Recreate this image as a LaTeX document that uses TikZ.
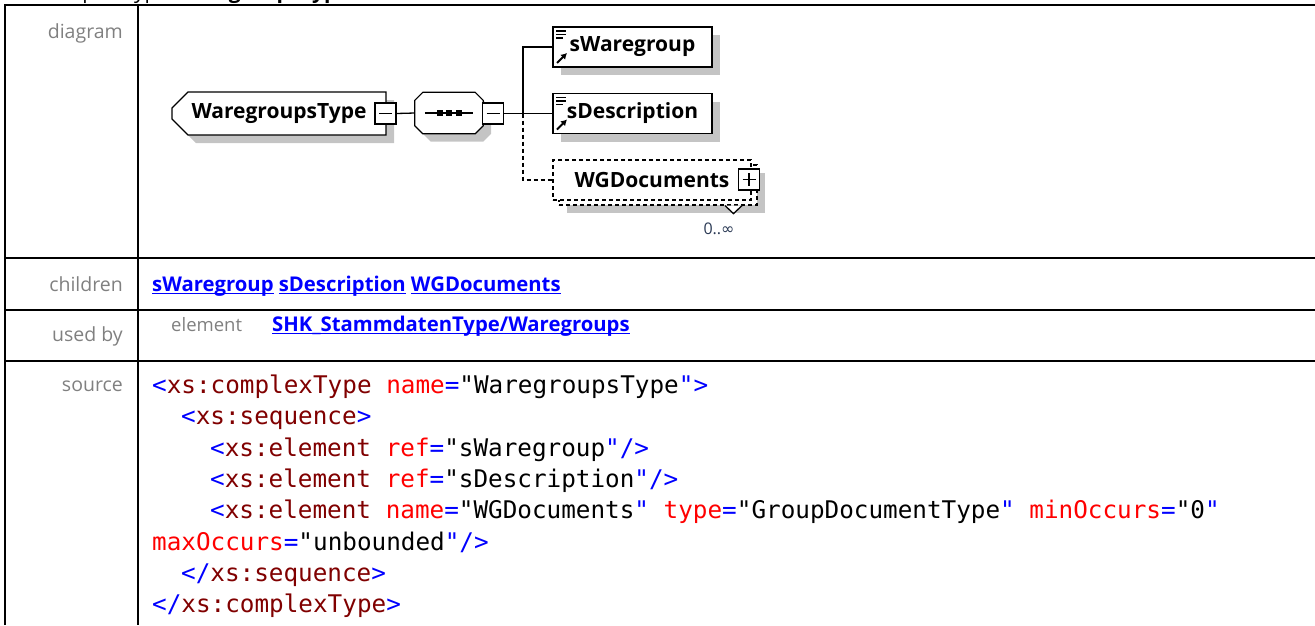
\documentclass[tikz,border=0pt]{standalone}
\usepackage{fontspec}
\setmainfont{Open Sans}
\setmonofont{DejaVu Sans Mono}
\newfontfamily\symfont{DejaVu Sans}
\usetikzlibrary{arrows.meta,shapes.misc,shadows,calc,positioning}
\definecolor{lblGray}{HTML}{808080}
\definecolor{lnkBlue}{HTML}{0000FF}
\definecolor{tagRed}{HTML}{800000}
\definecolor{attRed}{HTML}{FF0000}
\definecolor{shdGray}{HTML}{C4C4C4}
\definecolor{occNavy}{HTML}{2B3A55}
\newcommand\pn[1]{\textcolor{lnkBlue}{#1}}
\newcommand\tn[1]{\textcolor{tagRed}{#1}}
\newcommand\an[1]{\textcolor{attRed}{#1}}
\newcommand\lnk[1]{\setbox0\hbox{#1}\rlap{\rule[-3pt]{\wd0}{1.3pt}}\box0\relax}

\begin{document}
\begin{tikzpicture}[x=1pt, y=-1pt,
  tbl/.style={line width=2pt},
  lbl/.style={anchor=base east, inner sep=0pt, text=lblGray, font=\fontsize{19.5}{22}\selectfont},
  lnkrow/.style={anchor=base west, inner sep=0pt, text=lnkBlue, font=\bfseries\fontsize{20.3}{22}\selectfont},
  code/.style={anchor=base west, inner sep=0pt, font=\ttfamily\fontsize{24.3}{28}\selectfont},
  shd/.style={drop shadow={shadow xshift=8pt, shadow yshift=-8pt, fill=shdGray, opacity=1}},
  ctype/.style={chamfered rectangle, chamfered rectangle corners={north west,south west},
    chamfered rectangle xsep=8pt, chamfered rectangle ysep=8pt, draw, fill=white, line width=1.2pt, shd,
    minimum width=214pt, minimum height=43pt, inner sep=0pt, font=\bfseries\fontsize{21}{24}\selectfont},
  seqbox/.style={rectangle, minimum width=68pt, minimum height=41pt, inner sep=0pt},
  elem/.style={rectangle, draw, fill=white, line width=1.2pt, minimum width=159pt, minimum height=40pt,
    inner sep=0pt, font=\bfseries\fontsize{21}{24}\selectfont},
  refelem/.style={elem, shd, path picture={
    \draw[line width=1.3pt] ($(path picture bounding box.north west)+(3,4)$) -- +(10,0);
    \draw[line width=1.3pt] ($(path picture bounding box.north west)+(3,7.5)$) -- +(10,0);
    \draw[line width=1.3pt] ($(path picture bounding box.north west)+(3,11)$) -- +(7,0);
    \draw[line width=2pt, -{Latex[length=6pt,width=7pt]}] ($(path picture bounding box.south west)+(4,-4)$) -- +(10,-10);}},
  optelem/.style={elem, dash pattern=on 4pt off 3pt, minimum width=198pt},
  colbox/.style={rectangle, draw, fill=white, line width=1.2pt, minimum size=21pt, inner sep=0pt, path picture={
    \draw[line width=1.3pt] ($(path picture bounding box.west)+(4,0)$) -- ($(path picture bounding box.east)+(-4,0)$);}},
  expbox/.style={colbox, path picture={
    \draw[line width=1.3pt] ($(path picture bounding box.west)+(4,0)$) -- ($(path picture bounding box.east)+(-4,0)$);
    \draw[line width=1.3pt] ($(path picture bounding box.north)+(0,4)$) -- ($(path picture bounding box.south)+(0,-4)$);}},
  conn/.style={line width=1.3pt},
  optconn/.style={conn, dash pattern=on 4pt off 3pt},
]
\useasboundingbox (0,0) rectangle (1315,625);
\node[anchor=base west, inner sep=0pt, font=\fontsize{21}{24}\selectfont] (ttl) at (40,-1.5) {complexType \textbf{WaregroupsType}};

\draw[tbl] (5,625) -- (5,5) -- (1315,5);
\draw[tbl] (138,5) -- (138,625);
\draw[tbl] (5,258) -- (1315,258);
\draw[tbl] (5,310) -- (1315,310);
\draw[tbl] (5,361) -- (1315,361);

\node[lbl] (ldia) at (123,38) {diagram};
\node[lbl] (lkid) at (123,291) {children};
\node[lbl] (luse) at (123,341) {used by};
\node[lbl] (lsrc) at (123,391) {source};

\node[ctype] (wt) at (279,113.5) {WaregroupsType\hspace{16pt}};
\node[colbox] (wtx) at (385.5,113.5) {};
\node[seqbox] (seq) at (449,113) {};
\draw[line width=1.2pt, fill=white, shd] ($(seq.north west)+(8,0)$) -- ($(seq.north east)+(-8,0)$)
  -- ($(seq.north east)+(0,8)$) -- ($(seq.south east)+(0,-8)$) -- ($(seq.south east)+(-8,0)$)
  -- ($(seq.south west)+(8,0)$) -- ($(seq.south west)+(0,-8)$) -- ($(seq.north west)+(0,8)$) -- cycle;
\draw[conn] ($(seq.west)+(10,0)$) -- ($(seq.east)+(-10,0)$);
\foreach \dx in {-9.5,0,9.5}
  \fill ($(seq.center)+(\dx,0)$) ++(-3,-3) rectangle ++(6,6);
\node[colbox] (seqx) at (493,113.5) {};
\coordinate (brn) at (523,113.5);
\node[refelem] (sw) at (632.5,47) {sWaregroup};
\node[refelem] (sd) at (632.5,113.5) {sDescription};
\node[optelem, shd] (wgb) at (658,185) {};
\node[optelem] (wg) at (652,180) {WGDocuments\hspace{6pt}};
\node[expbox] (wgx) at (749,179.5) {};
\draw[conn, fill=white] ($(wgb.south)+(67,0)$) -- ++(8.5,8) -- ++(8.5,-8);
\node[inner sep=0pt, text=occNavy, font=\fontsize{16}{18}\selectfont] (occ) at (719,229) {0..{\symfont ∞}};

\draw[conn] (wtx.east) -- (seq.west);
\draw[conn] (seqx.east) -- (brn) |- (sw.west);
\draw[conn] (brn) -- (sd.west);
\draw[optconn] (brn) |- (wg.west);

\node[lnkrow] (kids) at (152,291) {\lnk{sWaregroup} \lnk{sDescription} \lnk{WGDocuments}};
\node[anchor=base west, inner sep=0pt, text=lblGray, font=\fontsize{18.5}{22}\selectfont] (uel) at (171,331) {element};
\node[lnkrow] (uref) at (272,331) {\lnk{SHK\_StammdatenType/Waregroups}};

\node[code] (c1) at (152,393.5) {\pn{<}\tn{xs:complexType} \an{name}\pn{=}"WaregroupsType\pn{">}};
\node[code] (c2) at (181,424.8) {\pn{<}\tn{xs:sequence}\pn{>}};
\node[code] (c3) at (210,456.1) {\pn{<}\tn{xs:element} \an{ref}\pn{=}"sWaregroup\pn{"/>}};
\node[code] (c4) at (210,487.4) {\pn{<}\tn{xs:element} \an{ref}\pn{=}"sDescription\pn{"/>}};
\node[code] (c5) at (210,518.7) {\pn{<}\tn{xs:element} \an{name}\pn{=}"WGDocuments\pn{"} \an{type}\pn{=}"GroupDocumentType\pn{"} \an{minOccurs}\pn{=}"0\pn{"}};
\node[code] (c6) at (152,550) {\an{maxOccurs}\pn{=}"unbounded\pn{"/>}};
\node[code] (c7) at (181,581.3) {\pn{</}\tn{xs:sequence}\pn{>}};
\node[code] (c8) at (152,612.6) {\pn{</}\tn{xs:complexType}\pn{>}};
\end{tikzpicture}
\end{document}
